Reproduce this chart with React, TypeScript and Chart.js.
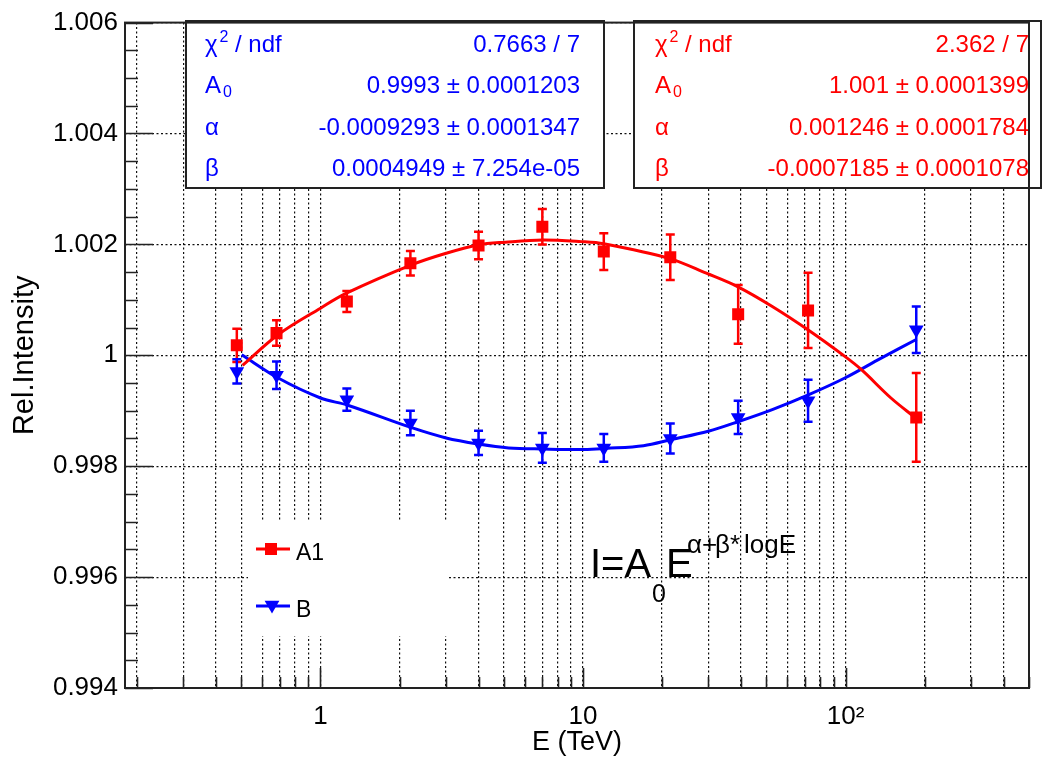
import React, { useEffect, useRef } from "react";
import { Chart, registerables } from "chart.js";

Chart.register(...registerables);

// ---------- data ----------
const energies = [0.48, 0.68, 1.26, 2.2, 4.0, 7.0, 12.0, 21.5, 39, 72, 186];
const a1Values = [1.00018, 1.0004, 1.00097, 1.00166, 1.00198, 1.00232, 1.00187, 1.00177, 1.00074, 1.00081, 0.99888];
const a1Errors = [0.0003, 0.00023, 0.00019, 0.00022, 0.00025, 0.00032, 0.00033, 0.00041, 0.00053, 0.00068, 0.0008];
const bValues = [0.99971, 0.99964, 0.9992, 0.99878, 0.99842, 0.99833, 0.99833, 0.9985, 0.99888, 0.99918, 1.00046];
const bErrors = [0.00022, 0.00025, 0.0002, 0.00022, 0.00022, 0.00027, 0.00025, 0.00027, 0.0003, 0.00038, 0.00042];

const a1FitEnergies = [0.505, 0.689, 1.0, 1.256, 2.22, 3.01, 3.98, 5.06, 7.02, 9.84, 12.0, 21.5, 29.5, 39.1, 52.6, 71.9, 99.4, 115, 149, 185];
const a1FitValues = [0.99982, 1.00037, 1.00085, 1.00112, 1.00163, 1.00184, 1.00199, 1.00204, 1.00208, 1.00205, 1.00201, 1.00174, 1.00148, 1.00123, 1.00088, 1.00046, 0.99998, 0.99974, 0.99923, 0.99887];
const bFitEnergies = [0.501, 0.69, 1.0, 1.27, 2.24, 3.01, 4.0, 5.21, 7.05, 10.1, 12.2, 17.0, 21.7, 30.0, 39.4, 52.6, 72.5, 99.4, 136.7, 186.7];
const bFitValues = [1.00001, 0.99959, 0.99923, 0.9991, 0.99869, 0.99851, 0.9984, 0.99833, 0.99831, 0.9983, 0.99832, 0.99837, 0.99848, 0.99863, 0.99881, 0.99902, 0.99929, 0.99959, 0.99995, 1.00029];

const xTickValues = [0.2, 0.3, 0.4, 0.5, 0.6, 0.7, 0.8, 0.9, 1, 2, 3, 4, 5, 6, 7, 8, 9, 10, 20, 30, 40, 50, 60, 70, 80, 90, 100, 200, 300, 400, 500];
const xLabeledTicks = [1, 10, 100];
const xTickLabels = ["1", "10", "10\u00B2"];
const yTickValues = [0.994, 0.996, 0.998, 1, 1.002, 1.004, 1.006];
const yTickLabels = ["0.994", "0.996", "0.998", "1", "1.002", "1.004", "1.006"];

const seriesNames = ["A1", "B"];
const blueStatValues = ["0.7663 / 7", "0.9993 \u00B1 0.0001203", "-0.0009293 \u00B1 0.0001347", "0.0004949 \u00B1 7.254e-05"];
const redStatValues = ["2.362 / 7", "1.001 \u00B1 0.0001399", "0.001246 \u00B1 0.0001784", "-0.0007185 \u00B1 0.0001078"];

// ---------- styles ----------
const FAMILY = '"Liberation Sans", Arial, Helvetica, sans-serif';
const RED = "#ff0000";
const BLUE = "#0000ff";
const f = (size: number) => `${size}px ${FAMILY}`;

function drawStatLabel(ctx: CanvasRenderingContext2D, idx: number, x: number, y: number) {
  ctx.font = f(24);
  if (idx === 0) {
    ctx.fillText("\u03C7", x, y);
    const w = ctx.measureText("\u03C7").width;
    ctx.font = f(16);
    ctx.fillText("2", x + w + 2, y - 10);
    ctx.font = f(24);
    ctx.fillText("/ ndf", x + 30, y);
  } else if (idx === 1) {
    ctx.fillText("A", x, y);
    const w = ctx.measureText("A").width;
    ctx.font = f(16);
    ctx.fillText("0", x + w + 2, y + 3.5);
  } else if (idx === 2) {
    ctx.fillText("\u03B1", x, y);
  } else {
    ctx.fillText("\u03B2", x, y);
  }
}

function drawStatBox(
  ctx: CanvasRenderingContext2D,
  x: number, y: number, w: number, h: number,
  color: string, values: string[], labelX: number, valueX: number
) {
  ctx.fillStyle = "#ffffff";
  ctx.fillRect(x, y, w, h);
  ctx.strokeStyle = "#222";
  ctx.lineWidth = 2;
  ctx.strokeRect(x, y, w, h);
  const baselines = [51.5, 93, 134.5, 176];
  ctx.fillStyle = color;
  ctx.textBaseline = "alphabetic";
  for (let i = 0; i < values.length; i++) {
    ctx.textAlign = "left";
    drawStatLabel(ctx, i, labelX, baselines[i]);
    ctx.font = f(24);
    ctx.textAlign = "right";
    ctx.fillText(values[i], valueX, baselines[i]);
  }
  ctx.textAlign = "left";
}

function drawErrorBars(ctx: CanvasRenderingContext2D, xs: any, ys: any, xv: number[], yv: number[], ev: number[], color: string) {
  ctx.strokeStyle = color;
  ctx.lineWidth = 2.5;
  ctx.beginPath();
  for (let i = 0; i < xv.length; i++) {
    const px = xs.getPixelForValue(xv[i]);
    const top = ys.getPixelForValue(yv[i] + ev[i]);
    const bot = ys.getPixelForValue(yv[i] - ev[i]);
    ctx.moveTo(px, top);
    ctx.lineTo(px, bot);
    ctx.moveTo(px - 4.5, top);
    ctx.lineTo(px + 4.5, top);
    ctx.moveTo(px - 4.5, bot);
    ctx.lineTo(px + 4.5, bot);
  }
  ctx.stroke();
}

const overlayPlugin = {
  id: "overlay",
  beforeDatasetsDraw(chart: any) {
    const ctx: CanvasRenderingContext2D = chart.ctx;
    const xs = chart.scales.x;
    const ys = chart.scales.y;
    ctx.save();

    // legend
    ctx.fillStyle = "#ffffff";
    ctx.fillRect(248, 520, 199, 116);
    ctx.lineWidth = 3;
    ctx.strokeStyle = RED;
    ctx.beginPath();
    ctx.moveTo(256, 549);
    ctx.lineTo(290, 549);
    ctx.stroke();
    ctx.fillStyle = RED;
    ctx.fillRect(265, 543, 12, 12);
    ctx.strokeStyle = BLUE;
    ctx.beginPath();
    ctx.moveTo(256, 606);
    ctx.lineTo(290, 606);
    ctx.stroke();
    ctx.fillStyle = BLUE;
    ctx.beginPath();
    ctx.moveTo(272 - 7.4, 600.8);
    ctx.lineTo(272 + 7.4, 600.8);
    ctx.lineTo(272, 613.5);
    ctx.closePath();
    ctx.fill();
    ctx.fillStyle = "#000";
    ctx.font = f(23);
    ctx.textBaseline = "alphabetic";
    ctx.textAlign = "left";
    ctx.fillText(seriesNames[0], 296, 560);
    ctx.fillText(seriesNames[1], 296, 617);

    // fit statistics boxes
    drawStatBox(ctx, 186, 21, 418, 167, BLUE, blueStatValues, 205, 580);
    drawStatBox(ctx, 634, 21, 407, 167, RED, redStatValues, 655, 1029);

    // formula
    ctx.fillStyle = "#000";
    ctx.textAlign = "left";
    ctx.font = f(40);
    ctx.fillText("I=A", 590, 577);
    ctx.font = f(25);
    ctx.fillText("0", 652, 602);
    ctx.font = f(40);
    ctx.fillText("E", 666, 577);
    ctx.font = f(26);
    ctx.fillText("\u03B1", 687, 553);
    ctx.fillText("+", 702, 553);
    ctx.fillText("\u03B2", 715, 553);
    ctx.fillText("*", 730, 553);
    ctx.fillText("logE", 744, 553);

    // error bars
    drawErrorBars(ctx, xs, ys, energies, a1Values, a1Errors, RED);
    drawErrorBars(ctx, xs, ys, energies, bValues, bErrors, BLUE);
    ctx.restore();
  },
  afterDatasetsDraw(chart: any) {
    const ctx: CanvasRenderingContext2D = chart.ctx;
    const { left, right, top, bottom } = chart.chartArea;
    const xs = chart.scales.x;
    const ys = chart.scales.y;
    ctx.save();
    ctx.strokeStyle = "#222";
    ctx.lineWidth = 1.6;
    ctx.beginPath();
    for (const v of xTickValues) {
      const px = Math.round(xs.getPixelForValue(v)) + 0.5;
      const major = xLabeledTicks.some((t) => Math.abs(t - v) < 1e-9);
      ctx.moveTo(px, bottom);
      ctx.lineTo(px, bottom - (major ? 20 : 11));
    }
    for (let k = 0; k <= 24; k++) {
      const v = 0.994 + k * 0.0005;
      const py = Math.round(ys.getPixelForValue(v)) + 0.5;
      ctx.moveTo(left, py);
      ctx.lineTo(left + (k % 4 === 0 ? 28 : 13), py);
    }
    ctx.stroke();
    ctx.lineWidth = 2;
    ctx.strokeRect(left, top, right - left, bottom - top);
    ctx.restore();
  },
};

export default function App() {
  const ref = useRef<HTMLCanvasElement | null>(null);
  useEffect(() => {
    if (!ref.current) return;
    const chart = new Chart(ref.current, {
      type: "line",
      data: {
        datasets: [
          {
            label: "A1 fit",
            data: a1FitEnergies.map((e, i) => ({ x: e, y: a1FitValues[i] })),
            borderColor: RED,
            borderWidth: 3,
            pointRadius: 0,
            tension: 0.35,
            fill: false,
          },
          {
            label: "B fit",
            data: bFitEnergies.map((e, i) => ({ x: e, y: bFitValues[i] })),
            borderColor: BLUE,
            borderWidth: 3,
            pointRadius: 0,
            tension: 0.35,
            fill: false,
          },
          {
            label: seriesNames[0],
            data: energies.map((e, i) => ({ x: e, y: a1Values[i] })),
            showLine: false,
            pointStyle: "rect",
            pointRadius: 8.5,
            pointBackgroundColor: RED,
            pointBorderWidth: 0,
            borderColor: RED,
            backgroundColor: RED,
          },
          {
            label: seriesNames[1],
            data: energies.map((e, i) => ({ x: e, y: bValues[i] })),
            showLine: false,
            pointStyle: "triangle",
            pointRotation: 180,
            pointRadius: 8.5,
            pointBackgroundColor: BLUE,
            pointBorderWidth: 0,
            borderColor: BLUE,
            backgroundColor: BLUE,
          },
        ] as any,
      },
      options: {
        animation: false,
        responsive: false,
        events: [],
        layout: { padding: { top: 21, right: 1, left: 0, bottom: 0 } },
        plugins: {
          legend: { display: false },
          tooltip: { enabled: false },
        },
        scales: {
          x: {
            type: "logarithmic",
            min: 0.18,
            max: 500,
            afterBuildTicks: (s: any) => {
              s.ticks = xTickValues.map((v) => ({ value: v }));
            },
            afterFit: (s: any) => {
              s.height = 74;
            },
            ticks: {
              autoSkip: false,
              maxRotation: 0,
              minRotation: 0,
              padding: 13,
              color: "#000",
              font: { family: FAMILY, size: 26 },
              callback: (v: any) => {
                const idx = xLabeledTicks.findIndex((t) => Math.abs(t - Number(v)) < 1e-9);
                return idx >= 0 ? xTickLabels[idx] : "";
              },
            },
            grid: { color: "#111", lineWidth: 1.2, drawTicks: false },
            border: { display: false, dash: [2, 2.5] },
            title: {
              display: true,
              text: "E (TeV)",
              color: "#000",
              font: { family: FAMILY, size: 27 },
              padding: { top: 0, bottom: 3 },
            },
          },
          y: {
            type: "linear",
            min: 0.994,
            max: 1.006,
            afterBuildTicks: (s: any) => {
              s.ticks = yTickValues.map((v) => ({ value: v }));
            },
            afterFit: (s: any) => {
              s.width = 125;
            },
            ticks: {
              padding: 7,
              color: "#000",
              font: { family: FAMILY, size: 26 },
              callback: (v: any) => {
                const idx = yTickValues.findIndex((t) => Math.abs(t - Number(v)) < 1e-9);
                return idx >= 0 ? yTickLabels[idx] : "";
              },
            },
            grid: { color: "#111", lineWidth: 1.2, drawTicks: false },
            border: { display: false, dash: [2, 2.5] },
            title: {
              display: true,
              text: "Rel.Intensity",
              color: "#000",
              font: { family: FAMILY, size: 29 },
              padding: { top: 8, bottom: 0 },
            },
          },
        },
      } as any,
      plugins: [overlayPlugin],
    });
    return () => chart.destroy();
  }, []);
  return (
    <div style={{ position: "absolute", left: 0, top: 0, width: 1042, height: 762, background: "#fff" }}>
      <canvas ref={ref} width={1042} height={762} style={{ width: 1042, height: 762, display: "block" }} />
    </div>
  );
}
